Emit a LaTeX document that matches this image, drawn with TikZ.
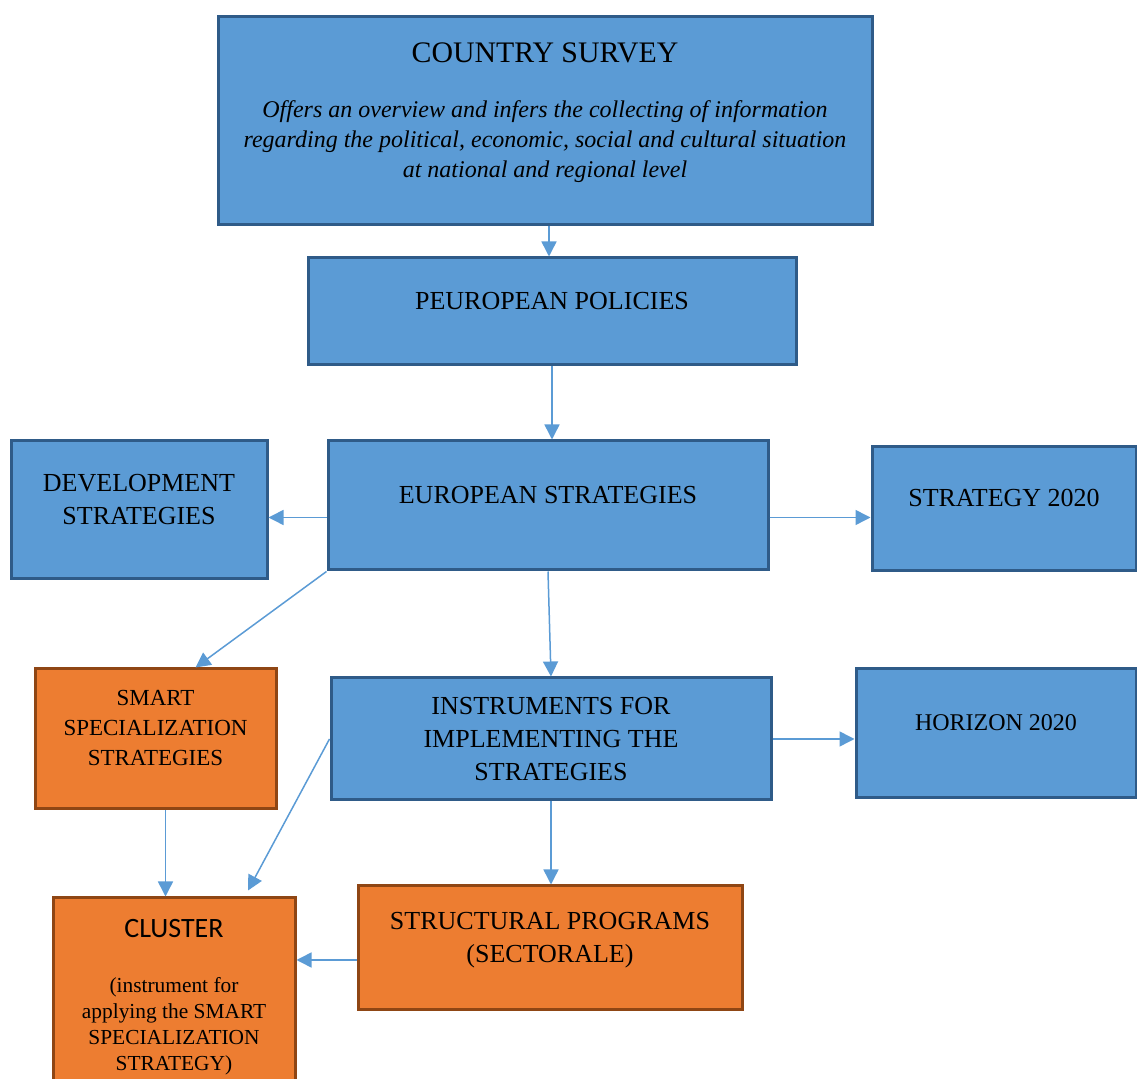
\documentclass[tikz,border=0pt]{standalone}
\usepackage{fontspec}
\setmainfont{Liberation Serif}
\newfontfamily\calibrifont{Carlito}
\usetikzlibrary{arrows.meta}

\definecolor{boxblue}{HTML}{5B9BD5}
\definecolor{blueedge}{HTML}{2F5B88}
\definecolor{boxorange}{HTML}{ED7D31}
\definecolor{orangeedge}{HTML}{8F4614}
\definecolor{arrowblue}{HTML}{5B9BD5}

\begin{document}
\begin{tikzpicture}[x=0.5pt,y=-0.5pt,
  textlift/.store in=\textliftamt,
  % extra depth under the last line, so the text sits above the middle
  bluebox/.style={draw=blueedge,fill=boxblue,line width=1.5pt,align=center,
    inner sep=0pt,textlift=11pt,
    execute at end node={\rule[-\textliftamt]{0pt}{0pt}},
    font=\fontsize{13}{16.5}\selectfont},
  orangebox/.style={bluebox,draw=orangeedge,fill=boxorange},
  arr/.style={draw=arrowblue,line width=0.75pt,-{Triangle[length=7.5pt,width=7.5pt]}}]

\useasboundingbox (0,0) rectangle (1137,1079);

% top of the chain
\node[bluebox,minimum width=327pt,minimum height=104pt,
  font=\itshape\fontsize{12}{15}\selectfont] (survey) at (545,121)
  {{\upshape\fontsize{14.9}{17}\selectfont COUNTRY SURVEY}\\[12.5pt]
   Offers an overview and infers the collecting of information\\
   regarding the political, economic, social and cultural situation\\
   at national and regional level};
\node[bluebox,minimum width=244pt,minimum height=53.5pt] (peuro) at (552,311.5) {PEUROPEAN POLICIES};
\node[bluebox,minimum width=220pt,minimum height=64.5pt] (euro) at (548,505.5) {EUROPEAN STRATEGIES};

% side boxes
\node[bluebox,minimum width=128pt,minimum height=69pt] (dev) at (139,510) {DEVELOPMENT\\STRATEGIES};
\node[bluebox,minimum width=132pt,minimum height=62pt] (strat) at (1004,509) {STRATEGY 2020};

% middle row
\node[orangebox,minimum width=120.5pt,minimum height=70pt,
  font=\fontsize{11.5}{15}\selectfont] (smart) at (155.5,739) {SMART\\SPECIALIZATION\\STRATEGIES};
\node[bluebox,minimum width=220pt,minimum height=61pt,textlift=0pt] (instr) at (551,739)
  {INSTRUMENTS FOR\\IMPLEMENTING THE\\STRATEGIES};
\node[bluebox,minimum width=140pt,minimum height=64.5pt,
  font=\fontsize{12}{15}\selectfont] (horiz) at (996,733.5) {HORIZON 2020};

% bottom row
\node[orangebox,minimum width=121pt,minimum height=101pt,textlift=4pt,
  font=\fontsize{10.7}{13}\selectfont] (cluster) at (174,999)
  {{\calibrifont\fontsize{14}{17}\selectfont CLUSTER}\\[14.5pt]
   (instrument for\\applying the SMART\\SPECIALIZATION\\STRATEGY)};
\node[orangebox,minimum width=192pt,minimum height=62pt] (struct) at (550,948) {STRUCTURAL PROGRAMS\\(SECTORALE)};

% connectors
\draw[arr] ([xshift=2pt]survey.south) -- ([xshift=2pt]survey.south |- peuro.north);
\draw[arr] (peuro.south) -- (peuro.south |- euro.north);
\draw[arr] ([yshift=-6pt]euro.west) -- ([yshift=-6pt]euro.west -| dev.east);
\draw[arr] ([yshift=-6pt]euro.east) -- ([yshift=-6pt]euro.east -| strat.west);
\draw[arr] (euro.south west) -- ([xshift=20pt]smart.north);
\draw[arr] (euro.south) -- (instr.north);
\draw[arr] ([xshift=5pt]smart.south) -- ([xshift=5pt]smart.south |- cluster.north);
\draw[arr] (instr.west) -- ([xshift=37pt,yshift=3pt]cluster.north);
\draw[arr] (instr.east) -- (instr.east -| horiz.west);
\draw[arr] (instr.south) -- (instr.south |- struct.north);
\draw[arr] ([yshift=-6pt]struct.west) -- ([yshift=-6pt]struct.west -| cluster.east);

\end{tikzpicture}
\end{document}
